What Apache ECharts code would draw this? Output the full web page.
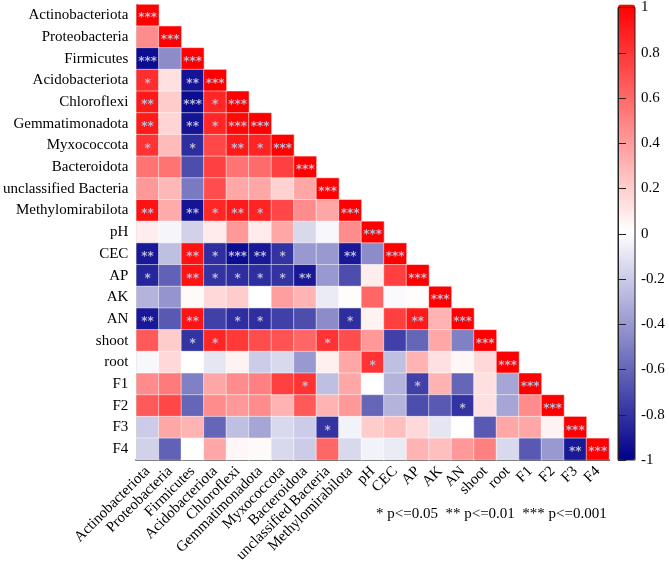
<!DOCTYPE html>
<html>
<head>
<meta charset="utf-8">
<script src="https://cdn.jsdelivr.net/npm/echarts@6/dist/echarts.min.js"></script>
<style>
html,body{margin:0;padding:0;background:#fff;}
#chart{width:669px;height:569px;}
</style>
</head>
<body>
<div id="chart"></div>
<script>
// ---- DATA ----
const categories = ["Actinobacteriota","Proteobacteria","Firmicutes","Acidobacteriota","Chloroflexi","Gemmatimonadota","Myxococcota","Bacteroidota","unclassified Bacteria","Methylomirabilota","pH","CEC","AP","AK","AN","shoot","root","F1","F2","F3","F4"];

// lower-triangle correlation values, one array per row (columns 1..row)
const rActinobacteriota = [1];
const rProteobacteria   = [0.45, 1];
const rFirmicutes       = [-0.95, -0.45, 1];
const rAcidobacteriota  = [0.82, 0.12, -0.92, 1];
const rChloroflexi      = [0.9, 0.2, -0.95, 0.85, 1];
const rGemmatimonadota  = [0.9, 0.17, -0.92, 0.85, 0.97, 1];
const rMyxococcota      = [0.8, 0.27, -0.82, 0.72, 0.9, 0.86, 1];
const rBacteroidota     = [0.55, 0.55, -0.7, 0.75, 0.55, 0.58, 0.75, 1];
const rUnclassified     = [0.4, 0.28, -0.52, 0.7, 0.35, 0.35, 0.18, 0.35, 1];
const rMethylomirabilota= [0.93, 0.33, -0.92, 0.85, 0.9, 0.86, 0.72, 0.45, 0.35, 1];
const rPH               = [0.07, -0.04, -0.18, 0.08, 0.4, 0.08, 0.35, -0.15, -0.03, 0.45, 1];
const rCEC              = [-0.9, -0.25, 0.93, -0.82, -0.95, -0.9, -0.8, -0.4, -0.4, -0.9, -0.45, 1];
const rAP               = [-0.85, -0.62, 0.92, -0.8, -0.82, -0.82, -0.8, -0.9, -0.4, -0.7, 0.07, 0.75, 1];
const rAK               = [-0.3, -0.42, 0.02, 0.15, 0.2, 0.0, 0.38, 0.3, -0.08, 0.01, 0.6, -0.02, 0.01, 1];
const rAN               = [-0.9, -0.65, 0.92, -0.75, -0.82, -0.82, -0.75, -0.7, -0.45, -0.82, 0.05, 0.75, 0.9, 0.3, 1];
const rShoot            = [0.65, 0.2, -0.8, 0.85, 0.78, 0.7, 0.68, 0.6, 0.8, 0.7, 0.4, -0.75, -0.6, 0.35, -0.5, 1];
const rRoot             = [-0.03, 0.15, 0.0, -0.1, 0.05, -0.2, -0.15, -0.4, 0.06, 0.35, 0.8, -0.25, 0.3, 0.12, 0.03, 0.15, 1];
const rF1               = [0.45, 0.52, -0.5, 0.35, 0.45, 0.5, 0.75, 0.8, -0.25, 0.35, 0.0, -0.3, -0.75, 0.3, -0.6, 0.12, -0.35, 1];
const rF2               = [0.65, 0.72, -0.6, 0.45, 0.4, 0.45, 0.3, 0.65, 0.3, 0.4, -0.6, -0.3, -0.7, -0.65, -0.8, 0.12, -0.35, 0.45, 1];
const rF3               = [-0.2, 0.35, 0.3, -0.6, -0.25, -0.35, -0.15, -0.2, -0.8, -0.05, 0.2, 0.25, 0.15, -0.1, 0.0, -0.65, 0.35, 0.35, 0.05, 1];
const rF4               = [-0.18, -0.62, 0.0, 0.35, 0.03, 0.02, -0.15, -0.2, 0.6, -0.15, -0.05, -0.08, 0.3, 0.25, 0.4, 0.5, -0.15, -0.65, -0.4, -0.9, 1];

// significance marks per row
const sActinobacteriota = ["***"];
const sProteobacteria   = ["","***"];
const sFirmicutes       = ["***","","***"];
const sAcidobacteriota  = ["*","","**","***"];
const sChloroflexi      = ["**","","***","*","***"];
const sGemmatimonadota  = ["**","","**","*","***","***"];
const sMyxococcota      = ["*","","*","","**","*","***"];
const sBacteroidota     = ["","","","","","","","***"];
const sUnclassified     = ["","","","","","","","","***"];
const sMethylomirabilota= ["**","","**","*","**","*","","","","***"];
const sPH               = ["","","","","","","","","","","***"];
const sCEC              = ["**","","**","*","***","**","*","","","**","","***"];
const sAP               = ["*","","**","*","*","*","*","**","","","","","***"];
const sAK               = ["","","","","","","","","","","","","","***"];
const sAN               = ["**","","**","","*","*","","","","*","","","**","","***"];
const sShoot            = ["","","*","*","","","","","*","","","","","","","***"];
const sRoot             = ["","","","","","","","","","","*","","","","","","***"];
const sF1               = ["","","","","","","","*","","","","","*","","","","","***"];
const sF2               = ["","","","","","","","","","","","","","","*","","","","***"];
const sF3               = ["","","","","","","","","*","","","","","","","","","","","***"];
const sF4               = ["","","","","","","","","","","","","","","","","","","","**","***"];

const colorbarTicks = [1, 0.8, 0.6, 0.4, 0.2, 0, -0.2, -0.4, -0.6, -0.8, -1];
const legendText = "* p<=0.05  ** p<=0.01  *** p<=0.001";

const valueRows = [rActinobacteriota,rProteobacteria,rFirmicutes,rAcidobacteriota,rChloroflexi,rGemmatimonadota,rMyxococcota,rBacteroidota,rUnclassified,rMethylomirabilota,rPH,rCEC,rAP,rAK,rAN,rShoot,rRoot,rF1,rF2,rF3,rF4];
const sigRows = [sActinobacteriota,sProteobacteria,sFirmicutes,sAcidobacteriota,sChloroflexi,sGemmatimonadota,sMyxococcota,sBacteroidota,sUnclassified,sMethylomirabilota,sPH,sCEC,sAP,sAK,sAN,sShoot,sRoot,sF1,sF2,sF3,sF4];

// ---- BUILD ----
const heatData = [];
valueRows.forEach((row, i) => row.forEach((v, j) => heatData.push([j, i, v])));

const FONT = "Liberation Serif";
const chart = echarts.init(document.getElementById('chart'), null, {renderer: 'canvas'});
chart.setOption({
  backgroundColor: '#ffffff',
  animation: false,
  grid: [
    {left: 136, top: 4.5, width: 473, height: 455.5},
    {left: 618, top: 4.5, width: 17, height: 455.5, show: true, borderColor: '#222', borderWidth: 1, backgroundColor: 'transparent', z: 6}
  ],
  xAxis: [
    {type: 'category', gridIndex: 0, data: categories, position: 'bottom',
     axisLine: {show: true, lineStyle: {color: '#000', width: 2}},
     axisTick: {show: false},
     axisLabel: {rotate: 45, margin: 9, fontFamily: FONT, fontSize: 15, color: '#000', interval: 0},
     splitLine: {show: false}},
    {type: 'value', gridIndex: 1, min: 0, max: 1, show: false}
  ],
  yAxis: [
    {type: 'category', gridIndex: 0, data: categories, inverse: true,
     axisLine: {show: true, lineStyle: {color: '#000', width: 1.5}},
     axisTick: {show: false},
     axisLabel: {margin: 8, fontFamily: FONT, fontSize: 15, color: '#000', interval: 0},
     splitLine: {show: false}},
    {type: 'value', gridIndex: 1, min: -1, max: 1, interval: 0.2, position: 'right', z: 6,
     axisLine: {show: true, lineStyle: {color: '#222', width: 1}},
     axisTick: {show: true, inside: false, length: 8, lineStyle: {color: '#222', width: 1}},
     axisLabel: {margin: 6, fontFamily: FONT, fontSize: 15, color: '#000',
       formatter: v => { const r = Math.round(v * 10) / 10; return colorbarTicks.indexOf(r) >= 0 ? String(r) : ''; }},
     splitLine: {show: false}}
  ],
  visualMap: {
    type: 'continuous', min: -1, max: 1, calculable: false, seriesIndex: 0,
    orient: 'vertical', left: 618, top: 4.5, itemWidth: 17, itemHeight: 455.5, padding: 0,
    text: null, showLabel: false,
    inRange: {color: ['#00008B', '#ffffff', '#ff0000']}
  },
  graphic: [
    {type: 'text', left: 376, top: 507, style: {text: legendText, font: '15px "Liberation Serif"', fill: '#000'}}
  ],
  series: [{
    type: 'heatmap', xAxisIndex: 0, yAxisIndex: 0, data: heatData,
    itemStyle: {borderColor: 'rgba(255,255,255,0.5)', borderWidth: 1},
    label: {show: true, color: '#bdbdd8', fontFamily: 'DejaVu Sans', fontWeight: 'bold', fontSize: 12,
      offset: [0, 3],
      formatter: p => sigRows[p.value[1]][p.value[0]]},
    emphasis: {disabled: true}
  }]
});
</script>
</body>
</html>
